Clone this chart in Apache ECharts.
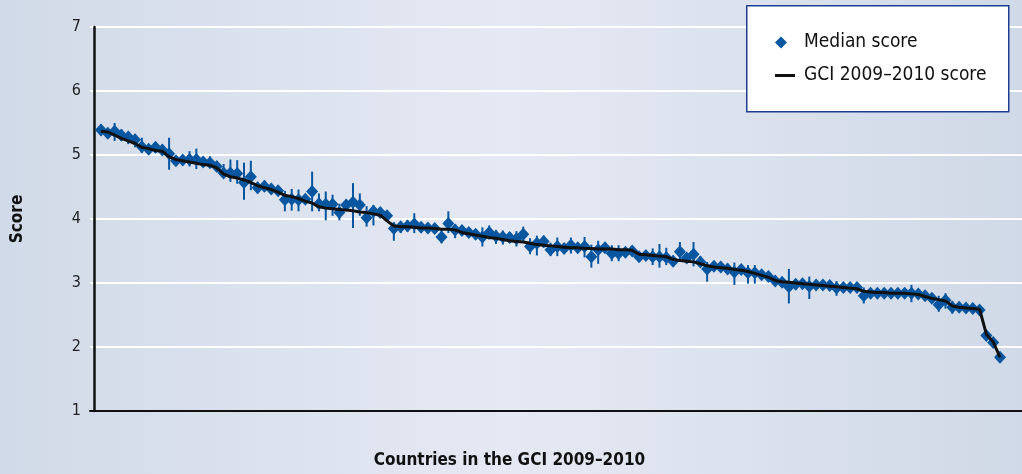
<!DOCTYPE html>
<html>
<head>
<meta charset="utf-8">
<script src="https://cdn.jsdelivr.net/npm/echarts@6/dist/echarts.min.js"></script>
<style>
html,body{margin:0;padding:0;}
#c{width:1022px;height:474px;}
</style>
</head>
<body>
<div id="c"></div>
<script>
// Rank positions of the 133 countries in the GCI 2009–2010
const yTicks = [1, 2, 3, 4, 5, 6, 7];
const seriesNames = ['Median score', 'GCI 2009–2010 score'];

const medianScore = [
5.39,5.34,5.37,5.31,5.28,5.24,5.13,5.09,5.12,5.08,
5.02,4.91,4.92,4.93,4.93,4.89,4.88,4.82,4.72,4.72,
4.71,4.57,4.66,4.49,4.51,4.47,4.44,4.30,4.31,4.30,
4.31,4.43,4.24,4.23,4.23,4.10,4.22,4.26,4.22,4.02,
4.12,4.10,4.05,3.85,3.88,3.89,3.92,3.87,3.86,3.85,
3.72,3.93,3.83,3.82,3.79,3.76,3.72,3.79,3.73,3.72,
3.71,3.69,3.76,3.57,3.62,3.65,3.52,3.57,3.54,3.59,
3.55,3.57,3.41,3.52,3.55,3.46,3.46,3.48,3.50,3.41,
3.43,3.41,3.41,3.40,3.34,3.49,3.39,3.45,3.33,3.22,
3.26,3.25,3.22,3.17,3.21,3.16,3.16,3.13,3.10,3.03,
3.01,2.94,2.98,2.99,2.95,2.97,2.97,2.96,2.92,2.93,
2.93,2.93,2.80,2.84,2.84,2.84,2.84,2.84,2.84,2.84,
2.83,2.80,2.76,2.66,2.73,2.62,2.62,2.61,2.60,2.58,
2.18,2.07,1.84
];
const rangeLow = [
5.30,5.28,5.22,5.22,5.17,5.12,5.03,5.02,5.03,5.02,
4.77,4.85,4.84,4.82,4.78,4.82,4.80,4.76,4.64,4.58,
4.55,4.30,4.45,4.40,4.43,4.40,4.37,4.12,4.13,4.12,
4.24,4.12,4.12,3.98,4.05,3.98,4.12,3.86,4.05,3.88,
3.90,4.02,3.98,3.66,3.78,3.80,3.78,3.80,3.79,3.78,
3.62,3.78,3.70,3.74,3.72,3.68,3.57,3.68,3.61,3.60,
3.63,3.57,3.65,3.45,3.43,3.55,3.42,3.42,3.47,3.46,
3.48,3.40,3.24,3.30,3.48,3.34,3.34,3.40,3.43,3.34,
3.36,3.28,3.24,3.28,3.27,3.36,3.32,3.26,3.26,3.02,
3.18,3.17,3.14,2.97,3.13,2.99,2.99,3.05,3.02,2.96,
2.93,2.68,2.90,2.91,2.75,2.90,2.90,2.88,2.80,2.86,
2.86,2.86,2.68,2.77,2.77,2.77,2.77,2.77,2.77,2.70,
2.76,2.73,2.69,2.55,2.60,2.52,2.55,2.54,2.53,2.52,
2.13,2.02,1.79
];
const rangeHigh = [
5.48,5.41,5.50,5.40,5.37,5.33,5.27,5.16,5.20,5.16,
5.27,4.97,5.00,5.06,5.10,4.97,4.98,4.88,4.86,4.93,
4.92,4.88,4.91,4.58,4.60,4.55,4.52,4.44,4.47,4.46,
4.38,4.74,4.40,4.43,4.38,4.24,4.30,4.56,4.40,4.20,
4.22,4.17,4.12,3.95,3.95,3.98,4.09,3.94,3.93,3.92,
3.84,4.12,3.92,3.90,3.86,3.84,3.87,3.90,3.83,3.82,
3.79,3.81,3.88,3.70,3.74,3.74,3.63,3.71,3.62,3.71,
3.62,3.72,3.60,3.66,3.62,3.59,3.59,3.56,3.57,3.48,
3.50,3.54,3.61,3.55,3.43,3.64,3.46,3.64,3.42,3.33,
3.33,3.32,3.30,3.32,3.28,3.28,3.28,3.20,3.17,3.10,
3.08,3.22,3.06,3.06,3.10,3.04,3.04,3.03,3.03,3.00,
3.00,3.00,2.93,2.91,2.91,2.91,2.91,2.91,2.91,2.97,
2.90,2.87,2.83,2.80,2.84,2.72,2.69,2.68,2.67,2.65,
2.23,2.12,1.89
];
const gciScore = [
5.37,5.36,5.31,5.26,5.22,5.18,5.12,5.10,5.07,5.06,
4.97,4.93,4.91,4.89,4.87,4.85,4.84,4.80,4.70,4.66,
4.64,4.61,4.57,4.52,4.49,4.46,4.42,4.37,4.35,4.32,
4.28,4.25,4.19,4.17,4.16,4.15,4.14,4.13,4.11,4.10,
4.08,4.06,3.97,3.89,3.88,3.88,3.87,3.86,3.86,3.85,
3.84,3.84,3.83,3.79,3.77,3.75,3.73,3.71,3.70,3.68,
3.66,3.65,3.64,3.62,3.60,3.59,3.58,3.57,3.56,3.55,
3.55,3.54,3.54,3.53,3.53,3.53,3.52,3.52,3.51,3.45,
3.44,3.43,3.42,3.41,3.37,3.35,3.34,3.33,3.30,3.27,
3.25,3.24,3.23,3.21,3.20,3.18,3.15,3.12,3.09,3.04,
3.02,3.01,3.00,2.99,2.98,2.97,2.96,2.95,2.94,2.93,
2.92,2.91,2.87,2.86,2.85,2.85,2.84,2.84,2.84,2.83,
2.82,2.79,2.76,2.74,2.72,2.64,2.62,2.61,2.60,2.59,
2.20,2.08,1.84
];
const ranks = medianScore.map((v, i) => i + 1);

const BLUE = '#07569f';
const NARROW = "'Liberation Sans Narrow','DejaVu Sans Condensed',sans-serif";

const chart = echarts.init(document.getElementById('c'), null, {renderer: 'canvas'});
chart.setOption({
  animation: false,
  backgroundColor: {
    type: 'linear', x: 0, y: 0, x2: 1, y2: 0,
    colorStops: [
      {offset: 0, color: '#d1dae8'},
      {offset: 0.5, color: '#e5e9f3'},
      {offset: 1, color: '#d0d9e7'}
    ]
  },
  grid: {left: 90, right: 0, top: 27, bottom: 63, containLabel: false, outerBoundsMode: 'none'},
  graphic: [{
    type: 'rect', left: 746, top: 5, z: 3,
    shape: {width: 262, height: 106},
    style: {fill: '#ffffff', stroke: '#1d3f8f', lineWidth: 1.5}
  }],
  legend: [{
    data: [{name: seriesNames[0], icon: 'diamond'}], left: 775, top: 33, padding: 0, z: 5,
    itemWidth: 12, itemHeight: 12,
    textStyle: {fontFamily: NARROW, fontSize: 19, color: '#111', padding: [0, 0, 0, 12]}
  }, {
    data: [{name: seriesNames[1], icon: 'rect'}], left: 775, top: 66, padding: 0, z: 5,
    itemWidth: 20, itemHeight: 3,
    itemStyle: {color: '#111'},
    textStyle: {fontFamily: NARROW, fontSize: 19, color: '#111', padding: [0, 0, 0, 4]}
  }],
  xAxis: {
    type: 'value', min: -0.615, max: 136.23,
    name: 'Countries in the GCI 2009–2010',
    nameLocation: 'middle', nameGap: 41,
    nameTextStyle: {fontFamily: NARROW, fontWeight: 'bold', fontSize: 17, color: '#111', padding: [0, 93, 0, 0]},
    axisLine: {show: true, onZero: false, lineStyle: {color: '#111', width: 2}},
    axisTick: {show: false}, axisLabel: {show: false}, splitLine: {show: false}
  },
  yAxis: {
    type: 'value', min: yTicks[0], max: yTicks[yTicks.length - 1], interval: 1,
    name: 'Score', nameLocation: 'middle', nameGap: 64, nameRotate: 90,
    nameTextStyle: {fontFamily: NARROW, fontWeight: 'bold', fontSize: 17, color: '#111'},
    axisLine: {show: true, lineStyle: {color: '#111', width: 2.5}},
    axisTick: {show: false},
    axisLabel: {fontFamily: NARROW, fontSize: 16, color: '#222', margin: 9},
    splitLine: {show: true, lineStyle: {color: '#ffffff', width: 2}}
  },
  series: [{
    name: 'errorbars', type: 'custom', z: 2, silent: true,
    data: ranks.map((r, i) => [r, rangeLow[i], rangeHigh[i]]),
    renderItem: function (params, api) {
      const a = api.coord([api.value(0), api.value(1)]);
      const b = api.coord([api.value(0), api.value(2)]);
      return {type: 'line', shape: {x1: a[0], y1: a[1], x2: b[0], y2: b[1]},
        style: {stroke: BLUE, lineWidth: 2}};
    }
  }, {
    name: seriesNames[0], type: 'scatter', z: 3,
    symbol: 'diamond', symbolSize: [12, 13],
    itemStyle: {color: BLUE, opacity: 1},
    data: ranks.map((r, i) => [r, medianScore[i]])
  }, {
    name: seriesNames[1], type: 'line', z: 4,
    symbol: 'none', showSymbol: false,
    lineStyle: {color: '#111', width: 3},
    itemStyle: {color: '#111'},
    data: ranks.map((r, i) => [r, gciScore[i]])
  }]
});
</script>
</body>
</html>
